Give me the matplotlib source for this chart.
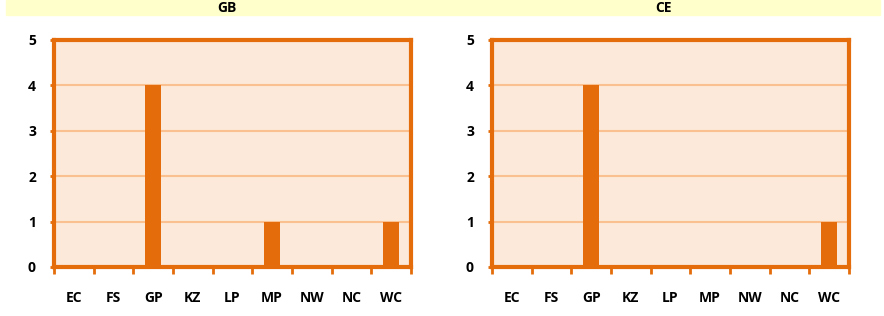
import matplotlib
matplotlib.use("Agg")
import matplotlib.pyplot as plt
from matplotlib.patches import Rectangle
import numpy as np

provinces = ["EC", "FS", "GP", "KZ", "LP", "MP", "NW", "NC", "WC"]
gb_counts = [0, 0, 4, 0, 0, 1, 0, 0, 1]
ce_counts = [0, 0, 4, 0, 0, 0, 0, 0, 1]
panel_titles = ["GB", "CE"]
y_ticks = [0, 1, 2, 3, 4, 5]

ORANGE = "#E46C0A"
FILL = "#FDE9D9"
GRID = "#FAC090"
BAND = "#FFFFCC"

plt.rcParams["font.family"] = ["Open Sans", "DejaVu Sans"]

W, H = 884, 316
fig = plt.figure(figsize=(W / 100, H / 100), dpi=100)


def px_axes(x0, y0, x1, y1):
    return fig.add_axes([x0 / W, 1 - y1 / H, (x1 - x0) / W, (y1 - y0) / H])


def draw_panel(ax, counts, title, band):
    x = np.arange(len(provinces))
    ax.set_facecolor(FILL)
    ax.bar(x, counts, width=0.4, color=ORANGE, zorder=3)
    ax.set_xlim(-0.5, len(provinces) - 0.5)
    ax.set_ylim(0, 5)
    ax.set_yticks(y_ticks)
    ax.set_yticklabels([str(t) for t in y_ticks], fontsize=10, fontweight="bold")
    ax.yaxis.grid(True, color=GRID, linewidth=1.5, zorder=1)
    ax.set_xticks(x)
    ax.set_xticklabels(provinces, fontsize=10, fontweight="bold")
    ax.tick_params(axis="x", which="major", length=0, pad=17)
    ax.set_xticks(np.arange(len(provinces) + 1) - 0.5, minor=True)
    ax.tick_params(axis="x", which="minor", length=5, width=2, color=ORANGE)
    ax.tick_params(axis="y", length=3, width=2, color=ORANGE, pad=10)
    for s in ax.spines.values():
        s.set_color(ORANGE)
        s.set_linewidth(3)
    fig.patches.append(Rectangle((band[0] / W, 1 - 15 / H), (band[1] - band[0]) / W, 15 / H,
                                 transform=fig.transFigure, color=BAND, zorder=0))
    fig.text((band[0] + band[1]) / 2 / W, 1 - 7.5 / H, title, ha="center", va="center",
             fontsize=10, fontweight="bold")


ax1 = px_axes(54, 40, 411, 267)
ax2 = px_axes(492, 40, 849, 267)
draw_panel(ax1, gb_counts, panel_titles[0], (6, 447))
draw_panel(ax2, ce_counts, panel_titles[1], (447, 880))

fig.savefig("out.png", dpi=100)
